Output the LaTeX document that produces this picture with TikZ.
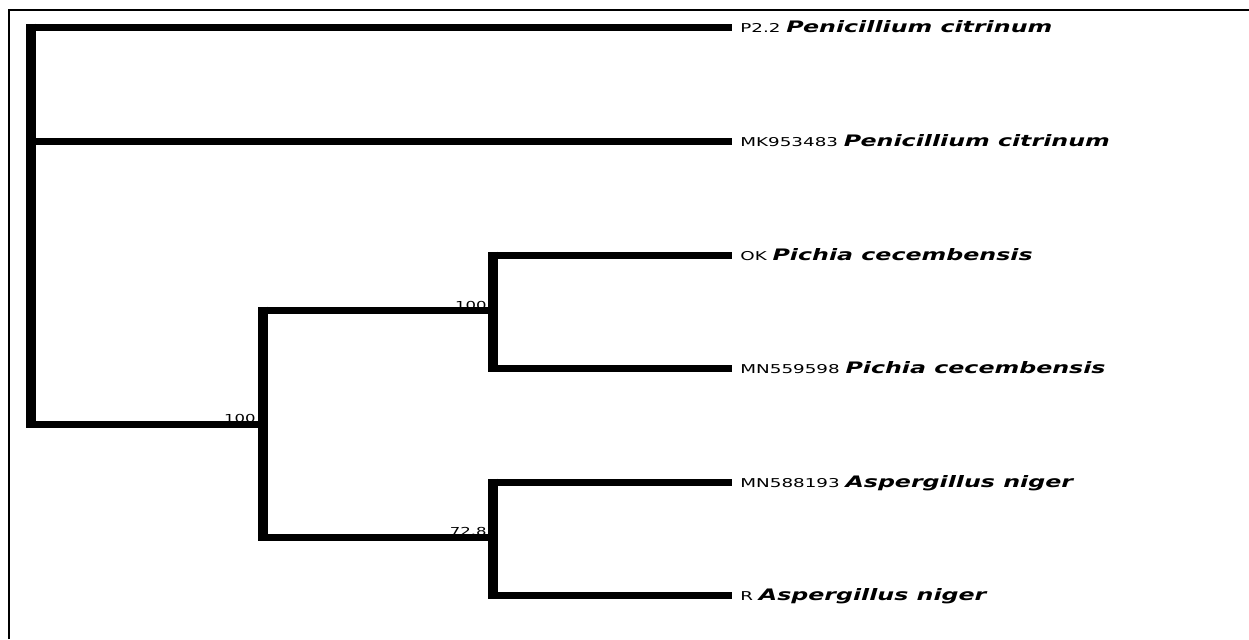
\documentclass[tikz,border=0pt]{standalone}
\usepackage{fontspec}
\usepackage{graphicx}
\newfontfamily\dv{DejaVu Sans}
\newcommand\leaflab[2]{\scalebox{1.5}[1]{\dv\fontsize{6.1}{7}\selectfont #1 \fontsize{7.9}{9}\selectfont\bfseries\itshape #2}}
\newcommand\suplab[1]{\scalebox{1.5}[1]{\dv\fontsize{5.5}{6}\selectfont #1}}
\begin{document}
\begin{tikzpicture}[x=0.5pt,y=-0.5pt,
  hbr/.style={line width=3.5pt},
  vbr/.style={line width=5pt},
  leaf/.style={anchor=base west,inner sep=0pt},
  supp/.style={anchor=base east,inner sep=0pt}]
\useasboundingbox (0,0) rectangle (1249,639);
\draw[line width=1pt] (8.5,639) -- (8.5,9.5) -- (1249,9.5);
% branch points
\coordinate (R) at (31,424.5);
\coordinate (A) at (262.5,424.5);
\coordinate (B) at (493,310);
\coordinate (C) at (493,537.5);
% leaf ends
\coordinate (e1) at (732,27);
\coordinate (e2) at (732,141);
\coordinate (e3) at (732,255);
\coordinate (e4) at (732,368);
\coordinate (e5) at (732,482);
\coordinate (e6) at (732,595);
% leaf labels
\node[leaf] (l1) at (740,32.5) {\leaflab{P2.2}{Penicillium citrinum}};
\node[leaf] (l2) at (740,146.5) {\leaflab{MK953483}{Penicillium citrinum}};
\node[leaf] (l3) at (740,260.5) {\leaflab{OK}{Pichia cecembensis}};
\node[leaf] (l4) at (740,373.5) {\leaflab{MN559598}{Pichia cecembensis}};
\node[leaf] (l5) at (740,487.5) {\leaflab{MN588193}{Aspergillus niger}};
\node[leaf] (l6) at (740,600.5) {\leaflab{R}{Aspergillus niger}};
% support values
\node[supp] (sA) at (256,422) {\suplab{100}};
\node[supp] (sB) at (487,309) {\suplab{100}};
\node[supp] (sC) at (487,535) {\suplab{72.8}};
% vertical branches
\draw[vbr] ([yshift=3.5*0.5pt]R |- e1) -- ([yshift=-3.5*0.5pt]R);
\draw[vbr] ([yshift=3.5*0.5pt]A |- B) -- ([yshift=-3.5*0.5pt]A |- C);
\draw[vbr] ([yshift=3.5*0.5pt]B |- e3) -- ([yshift=-3.5*0.5pt]B |- e4);
\draw[vbr] ([yshift=3.5*0.5pt]C |- e5) -- ([yshift=-3.5*0.5pt]C |- e6);
% horizontal branches
\draw[hbr] (R |- e1) -- (e1);
\draw[hbr] (R |- e2) -- (e2);
\draw[hbr] (R) -- (A);
\draw[hbr] (A |- B) -- (B);
\draw[hbr] (A |- C) -- (C);
\draw[hbr] (B |- e3) -- (e3);
\draw[hbr] (B |- e4) -- (e4);
\draw[hbr] (C |- e5) -- (e5);
\draw[hbr] (C |- e6) -- (e6);
\end{tikzpicture}
\end{document}
